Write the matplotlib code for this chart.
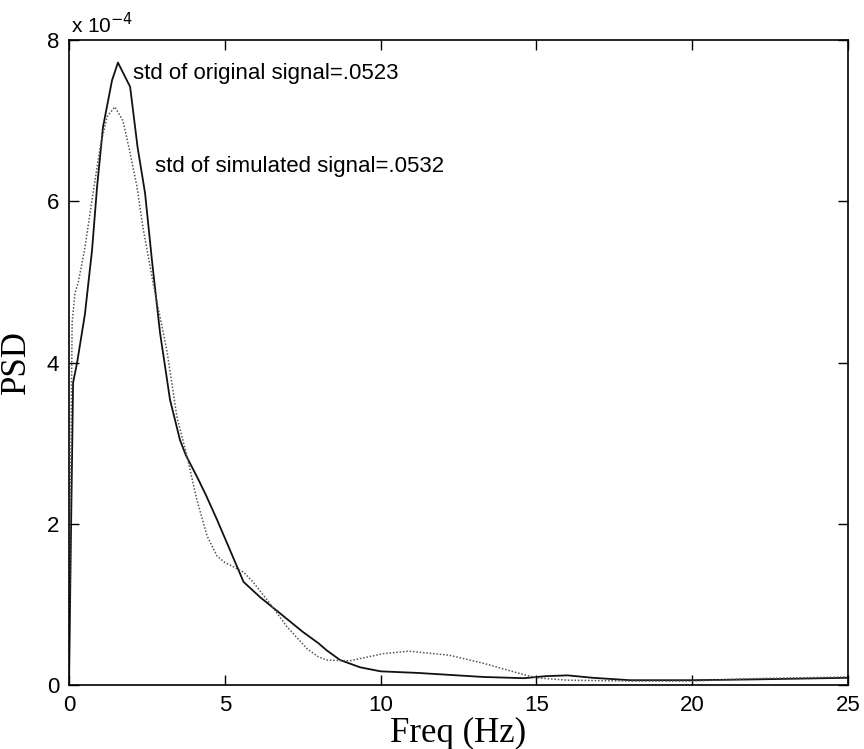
import matplotlib
matplotlib.use("Agg")
import matplotlib.pyplot as plt

# Data (PSD in units of 1e-4)
f_orig = [0, 0.06, 0.13, 0.26, 0.51, 0.74, 0.9, 1.09, 1.38, 1.57, 1.96, 2.2, 2.44,
          2.66, 2.92, 3.24, 3.56, 3.75, 3.95, 4.15, 4.4, 4.75, 5.17, 5.6, 6.13, 6.77,
          7.5, 8.0, 8.27, 8.7, 9.34, 10.0, 11.2, 13.3, 14.6, 15.3, 16.0, 16.8, 18.0,
          20.0, 22.0, 25.0]
psd_orig = [0, 1.8, 3.75, 4.0, 4.6, 5.4, 6.18, 6.92, 7.5, 7.72, 7.42, 6.67, 6.1,
            5.27, 4.37, 3.54, 3.04, 2.85, 2.7, 2.55, 2.35, 2.05, 1.67, 1.28, 1.09, 0.89,
            0.66, 0.52, 0.43, 0.31, 0.22, 0.17, 0.15, 0.10, 0.085, 0.11, 0.12, 0.09, 0.06,
            0.06, 0.07, 0.09]

f_sim = [0, 0.05, 0.1, 0.19, 0.3, 0.5, 0.77, 1.0, 1.22, 1.47, 1.73, 1.96, 2.18, 2.37,
         2.7, 3.14, 3.46, 3.79, 4.1, 4.43, 4.75, 5.0, 5.26, 5.6, 5.9, 6.45, 7.0, 7.64,
         8.0, 8.27, 9.0, 10.1, 10.9, 12.2, 13.3, 14.4, 15.0, 16.0, 18.0, 20.0, 22.0, 25.0]
psd_sim = [0, 2.5, 4.5, 4.86, 5.0, 5.4, 6.1, 6.67, 7.05, 7.17, 7.0, 6.6, 6.18, 5.68,
           4.98, 4.15, 3.33, 2.83, 2.3, 1.85, 1.6, 1.52, 1.47, 1.4, 1.28, 1.01, 0.72, 0.45,
           0.35, 0.31, 0.30, 0.39, 0.42, 0.37, 0.27, 0.15, 0.09, 0.06, 0.05, 0.05, 0.08, 0.1]

x_ticks = [0, 5, 10, 15, 20, 25]
y_ticks = [0, 2, 4, 6, 8]

fig = plt.figure(figsize=(8.64, 7.49), dpi=100)
ax = fig.add_axes([0.0799, 0.0854, 0.9016, 0.8612])

ax.plot(f_orig, psd_orig, color='#111111', lw=1.3, ls='-')
ax.plot(f_sim, psd_sim, color='#555555', lw=1.1, ls=(0, (1, 1.2)))

ax.set_xlim(0, 25)
ax.set_ylim(0, 8)
ax.set_xticks(x_ticks)
ax.set_yticks(y_ticks)
ax.set_xticklabels([str(t) for t in x_ticks], fontfamily='Liberation Sans', fontsize=16)
ax.set_yticklabels([str(t) for t in y_ticks], fontfamily='Liberation Sans', fontsize=16)
ax.tick_params(axis='x', direction='in', top=True, length=7, width=1, pad=7)
ax.tick_params(axis='y', direction='in', right=True, length=7, width=1, pad=7)
for s in ax.spines.values():
    s.set_linewidth(1.2)

ax.set_xlabel('Freq (Hz)', fontfamily='Liberation Serif', fontsize=25, labelpad=1)
ax.set_ylabel('PSD', fontfamily='Liberation Serif', fontsize=25, labelpad=10)

ax.text(0.003, 1.005, r'x 10$^{-4}$', transform=ax.transAxes, ha='left', va='bottom',
        fontfamily='Liberation Sans', fontsize=15)

ax.text(2.05, 7.59, 'std of original signal=.0523', ha='left', va='center',
        fontfamily='Liberation Sans', fontsize=16)
ax.text(2.76, 6.43, 'std of simulated signal=.0532', ha='left', va='center',
        fontfamily='Liberation Sans', fontsize=16)

fig.savefig('out.png', dpi=100)
